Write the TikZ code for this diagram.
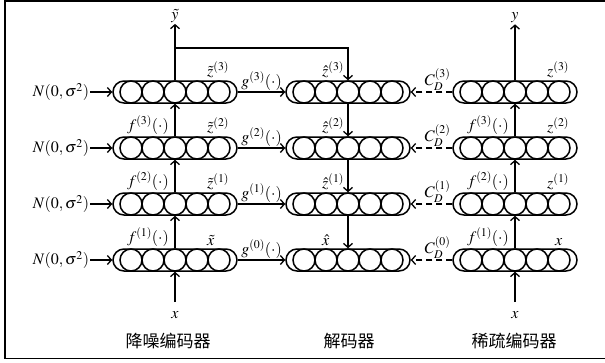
\documentclass[tikz,border=0pt]{standalone}
\usepackage{mathptmx}
\usepackage{fontspec}
\setmainfont{Liberation Serif}
\newfontfamily\cjk{Noto Sans CJK SC}
\usetikzlibrary{arrows.meta, calc, positioning}
\newcommand{\cells}[1]{%
  \foreach \k in {-2,...,2}
    \draw[cell] ($(#1.center)+(\k*22pt,0pt)$) circle (11pt);}

\begin{document}
\begin{tikzpicture}[x=1pt, y=-1pt, >={Straight Barb[length=4pt,width=9pt]},
  layer/.style={draw, line width=1.5pt, rounded corners=11pt, minimum width=124pt, minimum height=22pt, inner sep=0pt},
  cell/.style={line width=1.5pt},
  lbl/.style={font=\fontsize{16}{19}\selectfont, inner sep=1pt},
  title/.style={font=\cjk\fontsize{17}{20}\selectfont, inner sep=0pt},
  link/.style={->, line width=1.3pt},
  recon/.style={->, line width=1.3pt, dash pattern=on 6pt off 4pt}]

\useasboundingbox (0,0) rectangle (605,362);
\draw[line width=1.2pt] (605,1) -- (5,1) -- (5,358.5) -- (605,358.5);

% noisy encoder
\node[layer] (nz3) at (175,92) {};
\node[layer] (nz2) at (175,148) {};
\node[layer] (nz1) at (175,204) {};
\node[layer] (nz0) at (175,260) {};
\cells{nz3} \cells{nz2} \cells{nz1} \cells{nz0}

% decoder
\node[layer] (dec3) at (348,92) {};
\node[layer] (dec2) at (348,148) {};
\node[layer] (dec1) at (348,204) {};
\node[layer] (dec0) at (348,260) {};
\cells{dec3} \cells{dec2} \cells{dec1} \cells{dec0}

% clean (sparse) encoder
\node[layer] (cl3) at (515,92) {};
\node[layer] (cl2) at (515,148) {};
\node[layer] (cl1) at (515,204) {};
\node[layer] (cl0) at (515,260) {};
\cells{cl3} \cells{cl2} \cells{cl1} \cells{cl0}

% noise inputs
\node[lbl, left=22pt of nz3] (n3) {$N(0,\sigma^2)$};
\node[lbl, left=22pt of nz2] (n2) {$N(0,\sigma^2)$};
\node[lbl, left=22pt of nz1] (n1) {$N(0,\sigma^2)$};
\node[lbl, left=22pt of nz0] (n0) {$N(0,\sigma^2)$};
\draw[link] (n3) -- (nz3);
\draw[link] (n2) -- (nz2);
\draw[link] (n1) -- (nz1);
\draw[link] (n0) -- (nz0);

% inputs and outputs
\node[lbl] (xn) at (175,315) {$x$};
\node[lbl] (xc) at (515,315) {$x$};
\node[lbl] (yt) at (175,16) {$\tilde{y}$};
\node[lbl] (yc) at (515,18) {$y$};
\draw[link, shorten <=8pt] (xn.north) -- (nz0.south);
\draw[link, shorten <=8pt] (xc.north) -- (cl0.south);
\draw[link] (nz3.north) -- (yt.south);
\draw[link] (cl3.north) -- (yc.south);
\coordinate (br) at (175,48);
\draw[link] (br) -| (dec3.north);

% upward and downward paths
\draw[link] (nz0.north) -- (nz1.south);
\draw[link] (nz1.north) -- (nz2.south);
\draw[link] (nz2.north) -- (nz3.south);
\draw[link] (cl0.north) -- (cl1.south);
\draw[link] (cl1.north) -- (cl2.south);
\draw[link] (cl2.north) -- (cl3.south);
\draw[link] (dec3.south) -- (dec2.north);
\draw[link] (dec2.south) -- (dec1.north);
\draw[link] (dec1.south) -- (dec0.north);

% lateral connections
\draw[link] (nz3.east) -- node[lbl, above=0pt] (g3) {$g^{(3)}(\cdot)$} (dec3.west);
\draw[link] (nz2.east) -- node[lbl, above=0pt] (g2) {$g^{(2)}(\cdot)$} (dec2.west);
\draw[link] (nz1.east) -- node[lbl, above=0pt] (g1) {$g^{(1)}(\cdot)$} (dec1.west);
\draw[link] (nz0.east) -- node[lbl, above=0pt] (g0) {$g^{(0)}(\cdot)$} (dec0.west);
\draw[recon] (cl3.west) -- node[lbl, above=0pt, xshift=6pt] (cd3) {$C_D^{(3)}$} (dec3.east);
\draw[recon] (cl2.west) -- node[lbl, above=0pt, xshift=6pt] (cd2) {$C_D^{(2)}$} (dec2.east);
\draw[recon] (cl1.west) -- node[lbl, above=0pt, xshift=6pt] (cd1) {$C_D^{(1)}$} (dec1.east);
\draw[recon] (cl0.west) -- node[lbl, above=0pt, xshift=6pt] (cd0) {$C_D^{(0)}$} (dec0.east);

% layer labels
\node[lbl, above right=1pt and 0pt] (zt3) at ($(nz3.north)+(31pt,0pt)$) {$\tilde{z}^{(3)}$};
\node[lbl, above right=1pt and 0pt] (zt2) at ($(nz2.north)+(31pt,0pt)$) {$\tilde{z}^{(2)}$};
\node[lbl, above right=1pt and 0pt] (zt1) at ($(nz1.north)+(31pt,0pt)$) {$\tilde{z}^{(1)}$};
\node[lbl, above right=1pt and 0pt] (xt) at ($(nz0.north)+(31pt,0pt)$) {$\tilde{x}$};
\node[lbl, above=1pt] (fn3) at ($(nz2.north)+(-27pt,0pt)$) {$f^{(3)}(\cdot)$};
\node[lbl, above=1pt] (fn2) at ($(nz1.north)+(-27pt,0pt)$) {$f^{(2)}(\cdot)$};
\node[lbl, above=1pt] (fn1) at ($(nz0.north)+(-27pt,0pt)$) {$f^{(1)}(\cdot)$};
\node[lbl, above right=1pt and 0pt] (zh3) at ($(dec3.north)+(-27pt,0pt)$) {$\hat{z}^{(3)}$};
\node[lbl, above right=1pt and 0pt] (zh2) at ($(dec2.north)+(-27pt,0pt)$) {$\hat{z}^{(2)}$};
\node[lbl, above right=1pt and 0pt] (zh1) at ($(dec1.north)+(-27pt,0pt)$) {$\hat{z}^{(1)}$};
\node[lbl, above right=1pt and 0pt] (xh) at ($(dec0.north)+(-27pt,0pt)$) {$\hat{x}$};
\node[lbl, above right=1pt and 0pt] (zc3) at ($(cl3.north)+(31pt,0pt)$) {$z^{(3)}$};
\node[lbl, above right=1pt and 0pt] (zc2) at ($(cl2.north)+(31pt,0pt)$) {$z^{(2)}$};
\node[lbl, above right=1pt and 0pt] (zc1) at ($(cl1.north)+(31pt,0pt)$) {$z^{(1)}$};
\node[lbl, above right=1pt and 0pt] (xcl) at ($(cl0.north)+(39pt,0pt)$) {$x$};
\node[lbl, above=1pt] (fc3) at ($(cl2.north)+(-27pt,0pt)$) {$f^{(3)}(\cdot)$};
\node[lbl, above=1pt] (fc2) at ($(cl1.north)+(-27pt,0pt)$) {$f^{(2)}(\cdot)$};
\node[lbl, above=1pt] (fc1) at ($(cl0.north)+(-27pt,0pt)$) {$f^{(1)}(\cdot)$};

% titles
\node[title] (tn) at (168,341) {降噪编码器};
\node[title] (td) at (349,341) {解码器};
\node[title] (tc) at (514,341) {稀疏编码器};

\end{tikzpicture}
\end{document}
